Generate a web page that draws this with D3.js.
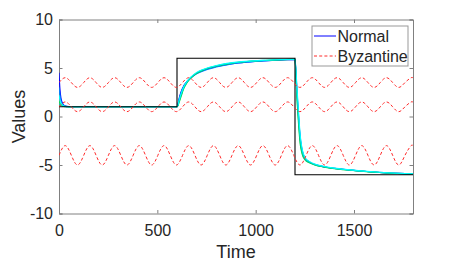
<!DOCTYPE html>
<html>
<head>
<meta charset="utf-8">
<script src="https://cdn.jsdelivr.net/npm/d3@7"></script>
<style>
  html, body { margin: 0; padding: 0; background: #fff; }
  svg { display: block; }
  text { font-family: "Liberation Sans", Arial, Helvetica, sans-serif; }
</style>
</head>
<body>
<svg id="chart" width="457" height="263"></svg>
<script>
// ---------- data ----------
const xTicks = [0, 500, 1000, 1500];
const yTicks = [-10, -5, 0, 5, 10];

// reference signal (step)
const refTime = [0, 600, 600, 1200, 1200, 1800];
const refValue = [1, 1, 6, 6, -6, -6];

// normal agents: sample times and read values
const normalTime = [0, 5, 10, 20, 30, 50, 100, 600, 605, 610, 620, 635, 650, 670, 700, 740, 800, 880, 960, 1050, 1130, 1200,
  1205, 1210, 1218, 1226, 1235, 1250, 1275, 1300, 1350, 1400, 1470, 1550, 1630, 1720, 1800];
const normalBlue = [4.5, 2.8, 1.9, 1.3, 1.1, 1.02, 1.0, 1.0, 1.3, 1.8, 2.5, 3.2, 3.6, 4.0, 4.45, 4.8, 5.15, 5.45, 5.62, 5.75, 5.83, 5.88,
  4.5, 2.5, 0.0, -2.2, -3.4, -4.3, -4.7, -4.95, -5.2, -5.35, -5.5, -5.65, -5.77, -5.86, -5.92];
const normalAzure = [3.0, 2.2, 1.6, 1.2, 1.07, 1.0, 1.0, 1.0, 1.25, 1.7, 2.4, 3.15, 3.55, 3.95, 4.4, 4.75, 5.1, 5.42, 5.6, 5.73, 5.82, 5.87,
  4.6, 2.7, 0.2, -2.0, -3.3, -4.25, -4.7, -4.93, -5.18, -5.34, -5.5, -5.64, -5.76, -5.86, -5.92];
const normalCyan = [2.2, 1.7, 1.4, 1.15, 1.05, 1.0, 1.0, 1.0, 1.2, 1.6, 2.3, 3.1, 3.6, 4.05, 4.55, 4.9, 5.25, 5.55, 5.7, 5.8, 5.87, 5.91,
  4.8, 3.0, 0.5, -1.8, -3.2, -4.2, -4.65, -4.9, -5.15, -5.32, -5.48, -5.63, -5.75, -5.85, -5.91];
const normalTeal = [1.3, 1.2, 1.12, 1.05, 1.02, 1.0, 1.0, 1.0, 1.15, 1.5, 2.15, 3.0, 3.5, 4.0, 4.5, 4.88, 5.22, 5.52, 5.68, 5.79, 5.86, 5.9,
  4.2, 2.1, -0.4, -2.5, -3.6, -4.4, -4.75, -4.97, -5.2, -5.36, -5.51, -5.65, -5.77, -5.86, -5.92];
const normalGreen = [1.6, 1.4, 1.25, 1.1, 1.03, 1.0, 1.0, 1.0, 1.1, 1.4, 2.0, 2.9, 3.45, 3.95, 4.45, 4.85, 5.2, 5.5, 5.67, 5.78, 5.85, 5.9,
  4.0, 1.8, -0.8, -2.8, -3.8, -4.45, -4.8, -5.0, -5.22, -5.37, -5.52, -5.66, -5.78, -5.87, -5.93];

// byzantine agents: values read at quarter-period points
const byzTime = [0, 31.4, 62.8, 94.2, 125.7, 157.1, 188.5, 219.9, 251.3, 282.7, 314.2, 345.6, 377.0, 408.4, 439.8, 471.2,
  502.7, 534.1, 565.5, 596.9, 628.3, 659.7, 691.2, 722.6, 754.0, 785.4, 816.8, 848.2, 879.6, 911.1, 942.5, 973.9,
  1005.3, 1036.7, 1068.1, 1099.6, 1131.0, 1162.4, 1193.8, 1225.2, 1256.6, 1288.1, 1319.5, 1350.9, 1382.3, 1413.7,
  1445.1, 1476.5, 1508.0, 1539.4, 1570.8, 1602.2, 1633.6, 1665.0, 1696.5, 1727.9, 1759.3, 1790.7, 1800];
const byzUpper = [3.5, 4, 3.5, 3, 3.5, 4, 3.5, 3, 3.5, 4, 3.5, 3, 3.5, 4, 3.5, 3, 3.5, 4, 3.5, 3, 3.5, 4, 3.5, 3, 3.5, 4, 3.5, 3,
  3.5, 4, 3.5, 3, 3.5, 4, 3.5, 3, 3.5, 4, 3.5, 3, 3.5, 4, 3.5, 3, 3.5, 4, 3.5, 3, 3.5, 4, 3.5, 3, 3.5, 4, 3.5, 3, 3.5, 4, 3.95];
const byzMiddle = [1, 1.5, 1, 0.5, 1, 1.5, 1, 0.5, 1, 1.5, 1, 0.5, 1, 1.5, 1, 0.5, 1, 1.5, 1, 0.5, 1, 1.5, 1, 0.5, 1, 1.5, 1, 0.5,
  1, 1.5, 1, 0.5, 1, 1.5, 1, 0.5, 1, 1.5, 1, 0.5, 1, 1.5, 1, 0.5, 1, 1.5, 1, 0.5, 1, 1.5, 1, 0.5, 1, 1.5, 1, 0.5, 1, 1.5, 1.45];
const byzLower = [-4, -3, -4, -5, -4, -3, -4, -5, -4, -3, -4, -5, -4, -3, -4, -5, -4, -3, -4, -5, -4, -3, -4, -5, -4, -3, -4, -5,
  -4, -3, -4, -5, -4, -3, -4, -5, -4, -3, -4, -5, -4, -3, -4, -5, -4, -3, -4, -5, -4, -3, -4, -5, -4, -3, -4, -5, -4, -3, -3.1];

const legendLabels = ["Normal", "Byzantine"];

// ---------- layout ----------
const svg = d3.select("#chart");
const pLeft = 59, pRight = 413, pTop = 19.5, pBottom = 213.5;
const x = d3.scaleLinear().domain([0, 1800]).range([pLeft, pRight]);
const y = d3.scaleLinear().domain([-10, 10]).range([pBottom, pTop]);
const axisColor = "#808080";
const textColor = "#262626";
const plainFmt = d => String(d);

svg.append("rect").attr("width", 457).attr("height", 263).attr("fill", "#fff");

// axes
const gx = svg.append("g").attr("transform", `translate(0,${pBottom})`)
  .call(d3.axisBottom(x).tickValues(xTicks).tickSize(-3.5).tickPadding(11.5).tickFormat(plainFmt));
const gxTop = svg.append("g").attr("transform", `translate(0,${pTop})`)
  .call(d3.axisTop(x).tickValues(xTicks).tickSize(-3.5).tickFormat(""));
const gy = svg.append("g").attr("transform", `translate(${pLeft},0)`)
  .call(d3.axisLeft(y).tickValues(yTicks).tickSize(-3.5).tickPadding(6).tickFormat(plainFmt));
const gyRight = svg.append("g").attr("transform", `translate(${pRight},0)`)
  .call(d3.axisRight(y).tickValues(yTicks).tickSize(-3.5).tickFormat(""));

[gx, gxTop, gy, gyRight].forEach(g => {
  g.select(".domain").attr("stroke", axisColor).attr("stroke-width", 1);
  g.selectAll(".tick line").attr("stroke", axisColor);
  g.selectAll(".tick text").attr("fill", textColor).style("font-size", "16px")
    .style("font-family", '"Liberation Sans", Arial, sans-serif');
});

svg.append("clipPath").attr("id", "plotclip").append("rect")
  .attr("x", pLeft).attr("y", pTop).attr("width", pRight - pLeft).attr("height", pBottom - pTop);
const plot = svg.append("g").attr("clip-path", "url(#plotclip)");

// normal agents
const lineN = d3.line().x((d, i) => x(normalTime[i])).y(d => y(d)).curve(d3.curveMonotoneX);
const normals = [
  [normalBlue, "#0000ff"],
  [normalAzure, "#0080ff"],
  [normalGreen, "#00e040"],
  [normalTeal, "#00c8a0"],
  [normalCyan, "#00ffff"]
];
normals.forEach(([vals, col]) => {
  plot.append("path").attr("d", lineN(vals)).attr("fill", "none")
    .attr("stroke", col).attr("stroke-width", 1.1);
});

// reference
const lineR = d3.line().x((d, i) => x(refTime[i])).y(d => y(d));
plot.append("path").attr("d", lineR(refValue)).attr("fill", "none")
  .attr("stroke", "#000").attr("stroke-width", 1.1);

// byzantine
const lineB = d3.line().x((d, i) => x(byzTime[i])).y(d => y(d)).curve(d3.curveNatural);
[byzUpper, byzMiddle, byzLower].forEach(vals => {
  plot.append("path").attr("d", lineB(vals)).attr("fill", "none")
    .attr("stroke", "#ff2a2a").attr("stroke-width", 1).attr("stroke-dasharray", "3,2.2");
});

// axis labels
svg.append("text").attr("x", (pLeft + pRight) / 2).attr("y", 258).attr("text-anchor", "middle")
  .attr("fill", textColor).style("font-size", "18px").text("Time");
svg.append("text").attr("transform", `translate(25,${(pTop + pBottom) / 2}) rotate(-90)`)
  .attr("text-anchor", "middle").attr("fill", textColor).style("font-size", "18px").text("Values");

// legend
const lg = svg.append("g");
lg.append("rect").attr("x", 312).attr("y", 26).attr("width", 96).attr("height", 40)
  .attr("fill", "#fff").attr("stroke", "#999").attr("stroke-width", 1);
const legendY = [36, 56];
const legendStyle = [{ c: "#0000ff", d: null }, { c: "#ff2a2a", d: "3,2.2" }];
legendLabels.forEach((lab, i) => {
  const ln = lg.append("line").attr("x1", 314).attr("x2", 336).attr("y1", legendY[i]).attr("y2", legendY[i])
    .attr("stroke", legendStyle[i].c).attr("stroke-width", 1);
  if (legendStyle[i].d) ln.attr("stroke-dasharray", legendStyle[i].d);
  lg.append("text").attr("x", 337.5).attr("y", legendY[i] + 6).attr("fill", textColor)
    .style("font-size", "16px").text(lab);
});
</script>
</body>
</html>
